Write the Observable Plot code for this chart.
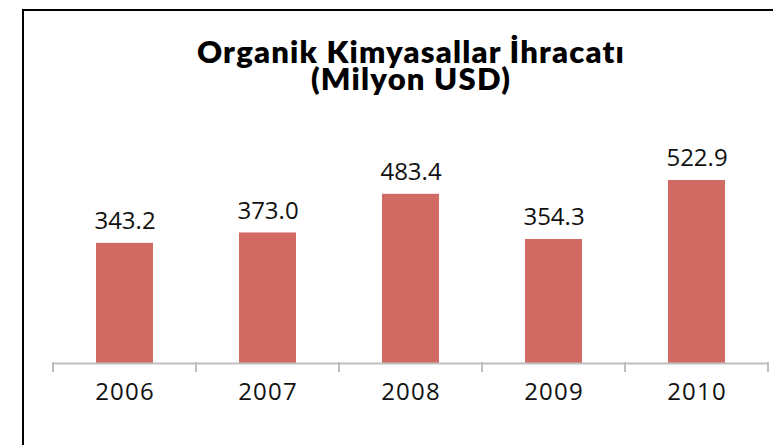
<!DOCTYPE html>
<html>
<head>
<meta charset="utf-8">
<script src="https://cdn.jsdelivr.net/npm/d3@7"></script>
<script src="https://cdn.jsdelivr.net/npm/@observablehq/plot@0.6"></script>
<style>
  html, body { margin: 0; padding: 0; background: #fff; }
  #wrap { position: relative; width: 773px; height: 445px; overflow: hidden; }
  #frame { position: absolute; left: 22px; top: 9px; right: -10px; bottom: -10px;
           border-left: 2px solid #000; border-top: 2px solid #000; pointer-events: none; }
  #title { box-sizing: border-box; width: 773px; height: 115px; padding-top: 36px; padding-left: 49px;
           text-align: center; font-family: Lato, sans-serif; font-weight: 800; font-size: 31px;
           color: #000; letter-spacing: 1.2px; }
  #title div { height: 27px; line-height: 31px; }
  #chart svg { display: block; }
</style>
</head>
<body>
<div id="wrap">
  <div id="title"><div>Organik Kimyasallar İhracatı</div><div>(Milyon USD)</div></div>
  <div id="chart"></div>
  <div id="frame"></div>
</div>
<script>
const years = ["2006", "2007", "2008", "2009", "2010"];
const values = [343.2, 373.0, 483.4, 354.3, 522.9];
const valueLabels = ["343.2", "373.0", "483.4", "354.3", "522.9"];

const data = years.map((y, i) => ({year: y, value: values[i], label: valueLabels[i]}));

const plot = Plot.plot({
  width: 773,
  height: 330,
  marginLeft: 53,
  marginRight: 4,
  marginTop: 38,
  marginBottom: 82,
  style: {fontFamily: "'Open Sans', sans-serif", background: "transparent"},
  x: {domain: years, paddingInner: 0.6, paddingOuter: 0.3, label: null},
  y: {domain: [0, 600], axis: null},
  marks: [
    Plot.barY(data, {x: "year", y: "value", fill: "#d26a64"}),
    Plot.ruleY([0], {stroke: "#bfbfbf", strokeWidth: 2}),
    Plot.text(data, {x: "year", y: "value", text: "label", dy: -14, lineAnchor: "bottom",
      fontSize: 24, fill: "#111"}),
    Plot.axisX({tickSize: 0, tickPadding: 19, fontSize: 24, color: "#111", label: null})
  ]
});
document.getElementById("chart").appendChild(plot);
d3.select(plot).selectAll("g[aria-label='x-axis tick label'] text").style("letter-spacing", "1.2px");

// boundary ticks between categories, placed from the band scale
const sx = plot.scale("x");
const gap = (sx.step - sx.bandwidth) / 2;
const bounds = years.map(d => sx.apply(d) - gap);
bounds.push(sx.apply(years[years.length - 1]) + sx.bandwidth + gap);
const sy = plot.scale("y");
const y0 = sy.apply(0);
d3.select(plot).append("g")
  .attr("stroke", "#bfbfbf").attr("stroke-width", 2)
  .selectAll("line").data(bounds).join("line")
  .attr("x1", d => d).attr("x2", d => d)
  .attr("y1", y0 - 1).attr("y2", y0 + 9);
</script>
</body>
</html>
